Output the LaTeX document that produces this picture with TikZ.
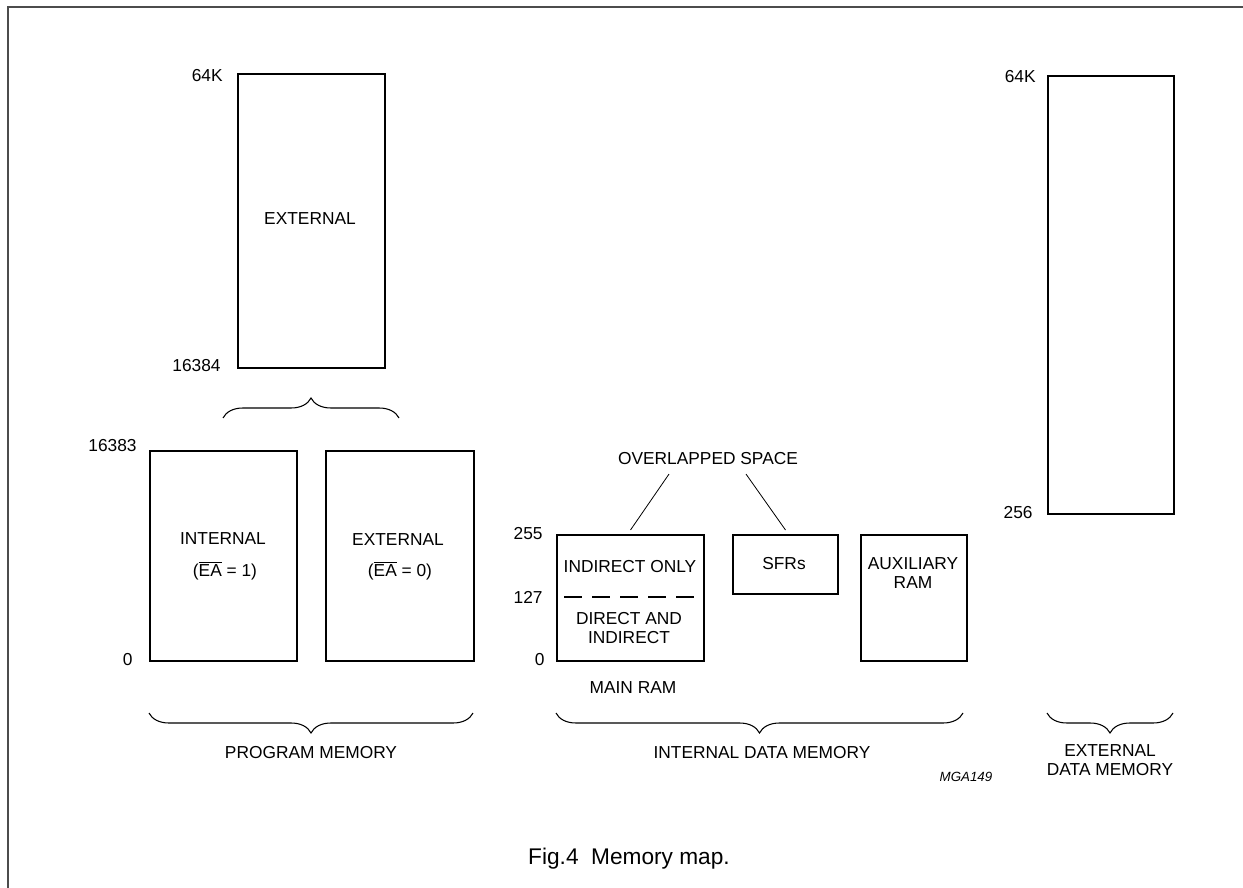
\documentclass[tikz,border=0pt]{standalone}
\usepackage{fontspec}
\setmainfont{Liberation Sans}
\usetikzlibrary{decorations.pathreplacing}
\begin{document}
\begin{tikzpicture}[x=0.75pt,y=-0.75pt,line width=0.6pt,
	membox/.style={draw,line width=1.5pt,inner sep=0pt,anchor=north west},
	txt/.style={font=\fontsize{13}{14}\selectfont,inner sep=0pt,align=center},
	addr/.style={txt,anchor=east},
	brc/.style={decorate,decoration={brace,amplitude=15pt},line width=0.8pt}]
	\useasboundingbox (0,0) rectangle (1243,888);
	\draw[black!70,line width=1pt] (8,888) -- (8,7) -- (1243,7);
	\node[membox,minimum width=110.25pt,minimum height=220.5pt] (pext) at (237,73) {};
	\node[membox,minimum width=110.25pt,minimum height=157.5pt] (pint) at (149,450) {};
	\node[membox,minimum width=111pt,minimum height=157.5pt] (pexa) at (325,450) {};
	\node[membox,minimum width=110.25pt,minimum height=94.5pt] (mram) at (556,534) {};
	\node[membox,minimum width=78.75pt,minimum height=44.25pt] (sfr) at (732,534) {};
	\node[membox,minimum width=79.5pt,minimum height=94.5pt] (aux) at (860,534) {};
	\node[membox,minimum width=94.5pt,minimum height=328.5pt] (xdat) at (1047,75) {};
	\draw[line width=1.5pt,dash pattern=on 13.5pt off 7.5pt] (564,597) -- (697,597);
	\node[txt] (pextl) at (310,219) {EXTERNAL};
	\node[txt] (pintl) at (223,539) {INTERNAL};
	\node[txt] (pinte) at (225,571) {(\(\overline{\mbox{EA}}\) = 1)};
	\node[txt] (pexal) at (398,540) {EXTERNAL};
	\node[txt] (pexae) at (400,571) {(\(\overline{\mbox{EA}}\) = 0)};
	\node[txt] (mrami) at (630,567) {INDIRECT ONLY};
	\node[txt] (mramd) at (629,628) {DIRECT AND\\INDIRECT};
	\node[txt] (sfrl) at (784,564) {SFRs};
	\node[txt] (auxl) at (913,573) {AUXILIARY\\RAM};
	\node[txt] (mraml) at (633,688) {MAIN RAM};
	\node[addr] (a64k) at (223,76) {64K};
	\node[addr] (a16384) at (221,366) {16384};
	\node[addr] (a16383) at (137,446) {16383};
	\node[addr] (a0p) at (133,660) {0};
	\node[addr] (a255) at (543,534) {255};
	\node[addr] (a127) at (543,597) {127};
	\node[addr] (a0d) at (545,660) {0};
	\node[addr] (x64k) at (1036,77) {64K};
	\node[addr] (x256) at (1033,513) {256};
	\node[txt] (ovl) at (708,459) {OVERLAPPED SPACE};
	\draw ([xshift=-29.25pt,yshift=-6.4pt]ovl.south) -- ([yshift=3pt]mram.north);
	\draw ([xshift=28.5pt,yshift=-6.4pt]ovl.south) -- ([yshift=3pt]sfr.north);
	\draw[brc] (223,418) -- (399,418);
	\draw[brc] (473,713) -- (149,713);
	\draw[brc] (963,713) -- (556,713);
	\draw[brc] (1173,713) -- (1047,713);
	\node[txt] (pmem) at (311,753) {PROGRAM MEMORY};
	\node[txt] (idm) at (762,753) {INTERNAL DATA MEMORY};
	\node[txt] (xdm) at (1110,760) {EXTERNAL\\DATA MEMORY};
	\node[txt,font=\fontsize{10}{12}\selectfont\itshape] (code) at (966,777) {MGA149};
	\node[txt,font=\fontsize{17}{20}\selectfont] (cap) at (629,859) {Fig.4\ \ Memory map.};
\end{tikzpicture}
\end{document}
